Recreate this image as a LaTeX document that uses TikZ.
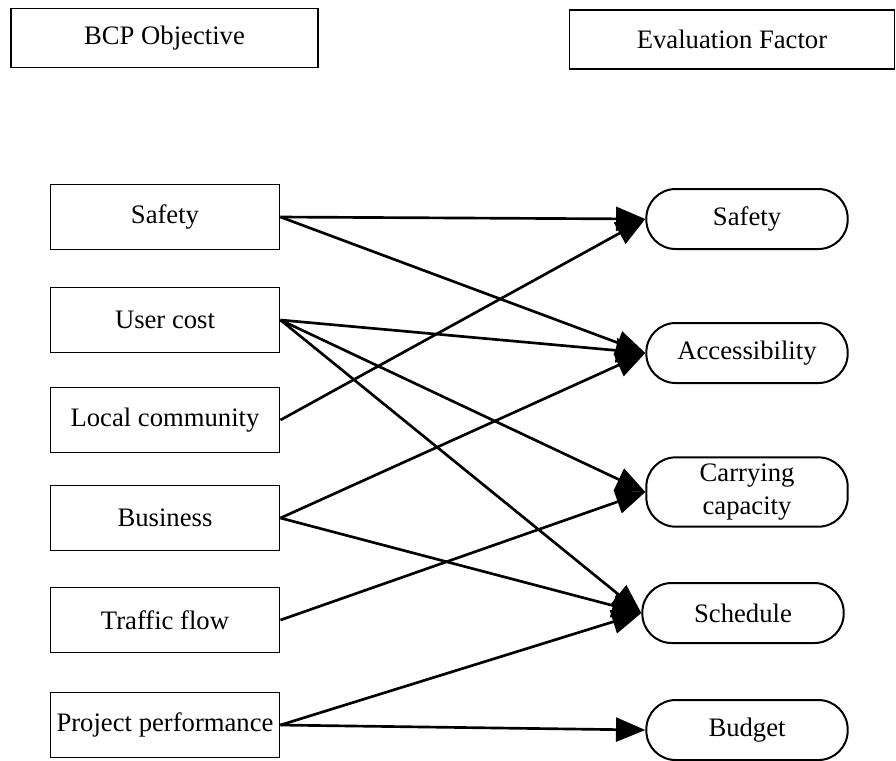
\documentclass[tikz,border=0pt]{standalone}
\usepackage{fontspec}
\setmainfont{Liberation Serif}
\usetikzlibrary{arrows.meta}
\begin{document}
\begin{tikzpicture}[x=0.375pt,y=-0.375pt,font=\fontsize{10}{12.4}\selectfont,
  headbox/.style={draw,line width=0.6pt,minimum height=22pt,inner sep=0pt},
  objbox/.style={draw,line width=0.6pt,minimum width=86pt,minimum height=24.4pt,inner sep=0pt},
  factorbox/.style={draw,line width=0.75pt,rounded corners=11pt,minimum width=75.5pt,minimum height=22.5pt,inner sep=0pt,align=center},
  link/.style={line width=1pt,-{Triangle[length=11pt,width=9pt]}}]
\useasboundingbox (0,0) rectangle (896,760);

\node[headbox,minimum width=115pt] (bcp) at (164.5,38) {BCP Objective};
\node[headbox,minimum width=122pt] (eval) at (732,39.5) {Evaluation Factor};

\node[objbox] (osafety) at (165,217) {Safety};
\node[objbox] (ousercost) at (165,320) {User cost};
\node[objbox] (olocal) at (165,420) {Local community};
\node[objbox] (obusiness) at (165,518) {Business};
\node[objbox] (otraffic) at (165,620) {Traffic flow};
\node[objbox] (oproject) at (165,725) {Project performance};

\node[factorbox] (fsafety) at (747,219) {Safety};
\node[factorbox] (faccess) at (747,353) {Accessibility};
\node[factorbox,minimum height=26pt] (fcarry) at (747,492) {Carrying\\capacity};
\node[factorbox] (fschedule) at (743,613) {Schedule};
\node[factorbox] (fbudget) at (747,730) {Budget};

\draw[link] (osafety.east) -- (fsafety.west);
\draw[link] (osafety.east) -- (faccess.west);
\draw[link] (ousercost.east) -- (faccess.west);
\draw[link] (ousercost.east) -- (fcarry.west);
\draw[link] (ousercost.east) -- (fschedule.west);
\draw[link] (olocal.east) -- (fsafety.west);
\draw[link] (obusiness.east) -- (faccess.west);
\draw[link] (obusiness.east) -- (fschedule.west);
\draw[link] (otraffic.east) -- (fcarry.west);
\draw[link] (oproject.east) -- (fschedule.west);
\draw[link] (oproject.east) -- (fbudget.west);
\end{tikzpicture}
\end{document}
